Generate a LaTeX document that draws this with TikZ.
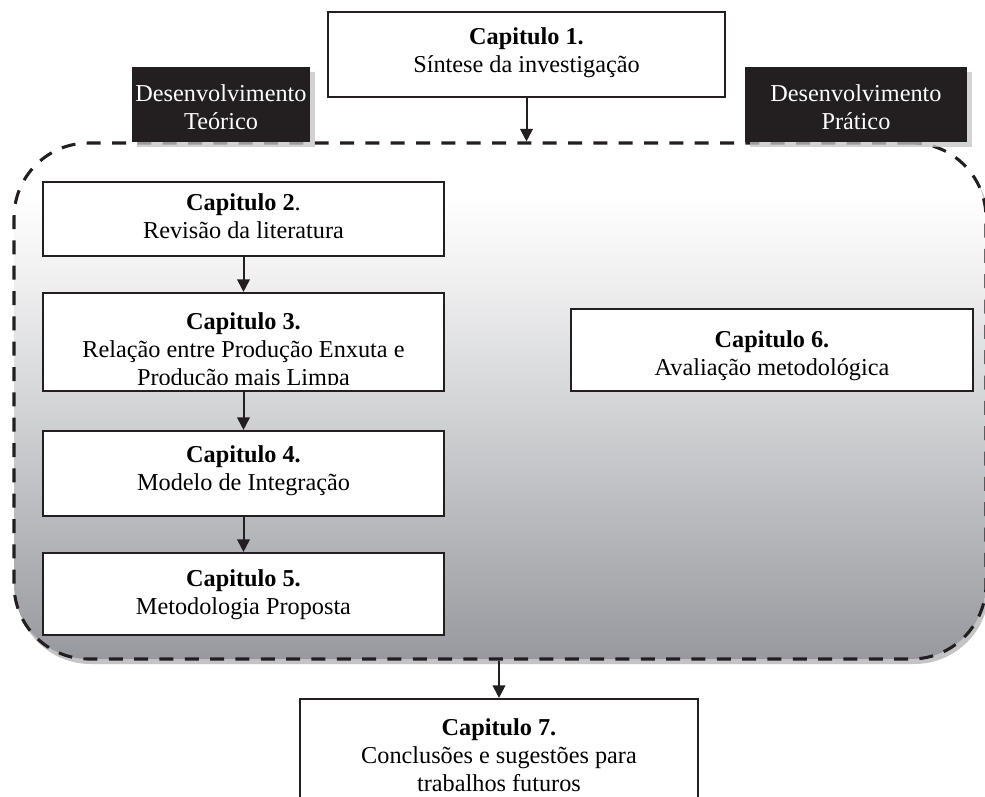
\documentclass[tikz,border=0pt]{standalone}
\usepackage{fontspec}
\setmainfont{Liberation Serif}
\usetikzlibrary{arrows.meta,fit}

\definecolor{inkline}{HTML}{231F20}
\definecolor{panelbot}{RGB}{152,153,158}
\definecolor{panelmid}{RGB}{212,213,215}
\definecolor{panelhigh}{RGB}{240,240,241}
\definecolor{hatch}{RGB}{196,196,198}

% vertical fade of the dashed panel: white at the top, grey at the bottom
\pgfdeclareverticalshading{panelfade}{100bp}{%
  color(0bp)=(panelbot); color(25bp)=(panelbot); color(50bp)=(panelmid);
  color(62bp)=(panelhigh); color(70bp)=(white); color(100bp)=(white)}

\tikzset{
  chapbox/.style={draw=inkline, line width=1.6pt, fill=white, inner sep=0pt},
  plaintext/.style={inner sep=0pt, align=center},
  darkbox/.style={fill=inkline, inner sep=0pt},
  darktext/.style={plaintext, text=white},
  % move a text block down by a number of pixels of the drawing
  down/.style={yshift=-#1*0.75pt},
  boxshadow/.style={fill=hatch, opacity=0.75},
  arr/.style={draw=inkline, line width=1.5pt, -{Triangle[length=9.5pt,width=9.5pt]}},
  panelbox/.style={rounded corners=56pt, shading=panelfade, draw=inkline,
    line width=2.3pt, dash pattern=on 10.5pt off 8.5pt, inner sep=0pt},
}

\begin{document}
\begin{tikzpicture}[x=0.75pt, y=-0.75pt, font=\fontsize{18.2}{21}\selectfont]
  \useasboundingbox (0,0) rectangle (985,796);
  \fill[white] (0,0) rectangle (985,796);
  \clip (0,0) rectangle (985,796);

  % shadow and body of the dashed panel
  \fill[hatch, rounded corners=56pt] (16,148) rectangle (989,664);
  \node[panelbox, fit={(14,143) (986,659)}] (panel) {};

  % headings over the top edge of the panel
  \fill[boxshadow] (137,72) rectangle (315,147);
  \fill[boxshadow] (750,72) rectangle (972,147);
  \node[darkbox, fit={(132,67) (310,142)}] (theory) {};
  \node[darktext, down=2.5] (theorytext) at (theory.center) {Desenvolvimento\\Teórico};
  \node[darkbox, fit={(745,67) (967,142)}] (practice) {};
  \node[darktext, down=2.5] (practicetext) at (practice.center) {Desenvolvimento\\Prático};

  % chapter boxes
  \node[chapbox, fit={(328,12) (725,97)}] (cap1) {};
  \node[plaintext, down=-2] (cap1text) at (cap1.center) {\textbf{Capitulo 1.}\\Síntese da investigação};

  \node[chapbox, fit={(43,182) (444,256)}] (cap2) {};
  \node[plaintext, down=-3] (cap2text) at (cap2.center) {\textbf{Capitulo 2}.\\Revisão da literatura};

  \node[chapbox, fit={(43,293) (444,391)}] (cap3) {};
  \begin{scope}
    % the last line runs past the box and is cut at its baseline
    \clip (43,293) rectangle (444,384);
    \node[plaintext, anchor=north, down=0.5] (cap3text) at (243.5,311.5)
      {\textbf{Capitulo 3.}\\Relação entre Produção Enxuta e\\Produção mais Limpa};
  \end{scope}

  \node[chapbox, fit={(43,431) (444,516)}] (cap4) {};
  \node[plaintext, down=-3] (cap4text) at (cap4.center) {\textbf{Capitulo 4.}\\Modelo de Integração};

  \node[chapbox, fit={(43,553) (444,635)}] (cap5) {};
  \node[plaintext, down=1] (cap5text) at (cap5.center) {\textbf{Capitulo 5.}\\Metodologia Proposta};

  \node[chapbox, fit={(571,309) (973,391)}] (cap6) {};
  \node[plaintext, down=6] (cap6text) at (cap6.center) {\textbf{Capitulo 6.}\\Avaliação metodológica};

  \node[chapbox, fit={(300,699) (698,830)}] (cap7) {};
  \node[plaintext, anchor=north] (cap7text) at (499,718)
    {\textbf{Capitulo 7.}\\Conclusões e sugestões para\\trabalhos futuros};

  % connectors
  \draw[arr] (cap1.south) -- (cap1.south |- panel.north);
  \draw[arr] (cap2.south) -- (cap3.north);
  \draw[arr] (cap3.south) -- (cap4.north);
  \draw[arr] (cap4.south) -- (cap5.north);
  \draw[arr] (panel.south -| cap7.north) -- (cap7.north);
\end{tikzpicture}
\end{document}
